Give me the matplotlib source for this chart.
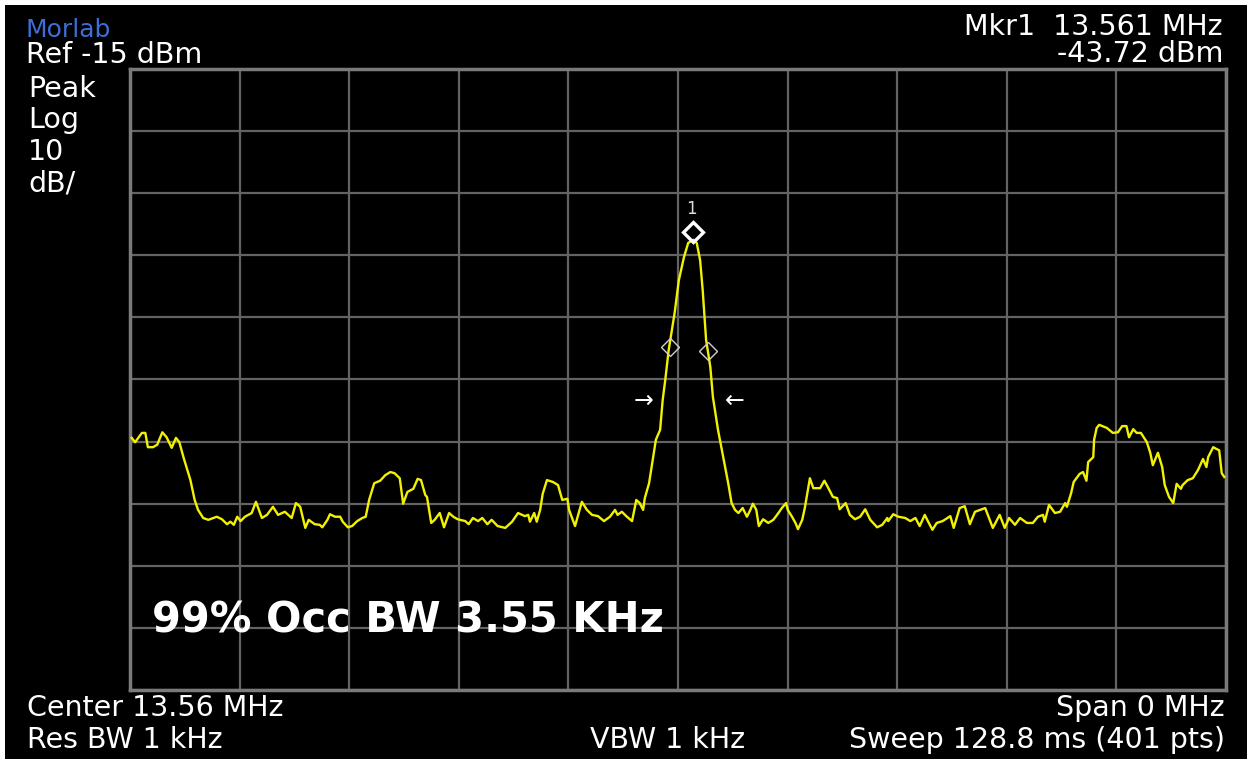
import matplotlib
matplotlib.use("Agg")
import matplotlib.pyplot as plt
from matplotlib.patches import Rectangle
from matplotlib.transforms import offset_copy
import numpy as np

plt.rcParams['font.family'] = ['DejaVu Sans']

# sweep settings (zero span, time axis)
ref_level = -15        # dBm, top of graticule
db_per_div = 10
sweep_ms = 128.8

# trace: time (ms) and level (dBm)
t_ms = [0.2, 0.6, 1.4, 1.8, 2.1, 2.7, 3.2, 3.8, 4.3, 4.9, 5.4, 5.8, 6.3, 7.1, 7.6, 8.0,
        8.6, 9.2, 10.2, 10.8, 11.4, 11.8, 12.2, 12.6, 13.0, 13.5, 13.9, 14.3, 14.8, 15.5,
        16.1, 16.8, 17.4, 18.2, 19.0, 19.5, 20.0, 20.6, 21.0, 21.7, 22.3, 22.6, 23.2, 23.5,
        24.1, 24.7, 25.0, 25.6, 26.1, 26.7, 27.3, 27.7, 28.1, 28.7, 29.4, 30.0, 30.6, 31.1,
        31.7, 32.1, 32.6, 33.3, 33.8, 34.2, 34.7, 34.9, 35.4, 35.8, 36.4, 36.9, 37.5, 38.0,
        38.5, 39.4, 39.8, 40.3, 40.9, 41.4, 42.0, 42.5, 43.2, 44.1, 44.9, 45.6, 46.4, 46.8,
        47.0, 47.5, 47.8, 48.2, 48.5, 49.0, 49.7, 50.3, 50.8, 51.4, 51.6, 52.3, 53.1, 53.7,
        54.3, 55.0, 55.7, 56.4, 57.0, 57.3, 57.8, 58.4, 59.0, 59.5, 59.9, 60.3, 60.5, 61.0,
        61.8, 62.3, 62.6, 62.9, 63.3, 64.0, 64.5, 65.1, 65.6, 66.2, 66.6, 67.0, 67.3, 67.7,
        68.2, 68.5, 69.1, 70.3, 70.7, 71.1, 71.5, 72.0, 72.5, 72.9, 73.2, 73.6, 73.9, 74.4,
        75.0, 75.6, 76.2, 76.6, 77.1, 77.3, 77.8, 78.2, 78.5, 79.0, 79.3, 79.9, 80.3, 81.1,
        81.6, 82.0, 82.6, 83.1, 83.4, 84.1, 84.6, 85.2, 85.8, 86.4, 87.0, 87.8, 88.4, 89.0,
        89.1, 89.7, 90.3, 91.1, 91.7, 92.3, 92.8, 93.4, 93.8, 94.3, 94.8, 95.5, 96.4, 96.8,
        97.5, 98.1, 98.7, 99.3, 100.5, 101.4, 102.2, 102.8, 103.3, 104.0, 104.6, 105.4,
        106.1, 106.7, 107.3, 107.5, 108.0, 108.7, 109.3, 109.9, 110.1, 110.6, 110.9, 111.6,
        112.0, 112.4, 112.6, 113.2, 113.3, 113.6, 113.9, 114.8, 115.5, 116.1, 116.6, 117.1,
        117.4, 117.9, 118.3, 118.8, 119.5, 119.9, 120.2, 120.8, 121.3, 121.6, 122.1, 122.6,
        123.0, 123.5, 123.7, 124.3, 124.9, 125.5, 126.1, 126.5, 126.7, 127.3, 127.7, 128.0,
        128.3, 128.6]
level_dbm = [-74.4, -75.1, -73.6, -73.6, -75.9, -75.9, -75.5, -73.5, -74.3, -76.0, -74.4, -75.1,
             -77.6, -81.2, -84.4, -86.0, -87.3, -87.6, -87.1, -87.5, -88.3, -87.9, -88.4, -87.1,
             -87.8, -87.1, -86.8, -86.5, -84.7, -87.3, -86.8, -85.5, -86.8, -86.3, -87.3, -84.9,
             -85.5, -88.9, -87.6, -88.3, -88.4, -88.8, -87.6, -86.7, -87.1, -87.1, -87.9, -88.8,
             -88.6, -87.8, -87.3, -87.1, -84.4, -81.7, -81.3, -80.4, -79.9, -80.1, -80.9, -85.0,
             -83.1, -82.6, -81.0, -81.2, -83.6, -83.9, -88.1, -87.6, -86.5, -88.8, -86.5, -87.1,
             -87.5, -87.8, -88.3, -87.3, -87.8, -87.3, -88.3, -87.6, -88.6, -88.9, -87.9, -86.5,
             -87.0, -86.8, -87.9, -86.5, -87.9, -86.0, -83.4, -81.2, -81.5, -82.0, -84.4, -84.2,
             -86.0, -88.6, -84.7, -86.0, -86.8, -87.0, -87.8, -87.1, -86.0, -86.8, -86.3, -87.1,
             -87.8, -84.4, -84.9, -86.0, -84.1, -81.7, -74.7, -73.1, -68.3, -65.1, -60.3, -54.3,
             -49.0, -45.3, -43.0, -42.5, -43.0, -45.8, -50.6, -58.6, -63.0, -67.8, -73.1, -81.7,
             -84.9, -86.0, -86.5, -85.7, -87.1, -86.0, -85.0, -86.0, -88.6, -87.5, -88.1, -87.6,
             -86.5, -85.7, -84.9, -86.0, -87.1, -88.1, -89.1, -87.6, -85.7, -80.9, -82.5, -82.5,
             -81.3, -82.3, -83.9, -84.1, -85.9, -84.9, -86.8, -87.5, -87.1, -85.9, -87.6, -88.8,
             -88.4, -87.3, -87.8, -86.7, -87.1, -87.3, -87.8, -87.3, -88.6, -86.8, -87.9, -89.2,
             -88.1, -87.8, -87.0, -88.9, -85.7, -85.4, -88.3, -86.3, -85.7, -88.9, -86.8, -88.9,
             -87.3, -88.4, -87.3, -88.1, -88.1, -87.1, -86.8, -87.9, -85.2, -86.5, -86.3, -84.9,
             -85.5, -83.3, -81.5, -80.2, -79.9, -81.3, -78.3, -77.5, -74.7, -72.8, -72.3, -72.8,
             -73.6, -73.5, -72.5, -72.5, -74.3, -73.0, -73.6, -73.6, -75.1, -76.8, -78.8, -76.8,
             -79.1, -82.0, -83.9, -84.9, -81.8, -82.6, -82.0, -81.2, -80.9, -79.6, -77.8, -79.1,
             -77.5, -75.9, -76.2, -76.4, -80.1, -80.7]

# occupied bandwidth markers and edge arrows
obw_t = [63.5, 67.9]
obw_level = [-59.8, -60.4]
arrow_t = [60.3, 71.1]
arrow_level = -68.5

grid_col = '#636363'
frame_col = '#7a7a7a'
trace_col = '#f2f200'

fig = plt.figure(figsize=(12.5, 7.65), dpi=100, facecolor='white')
fig.patches.append(Rectangle((5 / 1250, 6 / 765), 1242 / 1250, 754 / 765,
                             transform=fig.transFigure, facecolor='black',
                             edgecolor='none', zorder=-10))

ax = fig.add_axes([130 / 1250, 75 / 765, 1096 / 1250, 621 / 765])
ax.set_facecolor('black')
ax.set_xlim(0, sweep_ms)
ax.set_ylim(ref_level - 10 * db_per_div, ref_level)
ax.set_xticks(np.linspace(0, sweep_ms, 11))
ax.set_yticks(np.arange(ref_level - 10 * db_per_div, ref_level + 1, db_per_div))
ax.grid(True, color=grid_col, lw=1.6)
ax.tick_params(length=0, labelbottom=False, labelleft=False)
for s in ax.spines.values():
    s.set_color(frame_col)
    s.set_linewidth(2.5)

ax.plot(t_ms, level_dbm, color=trace_col, lw=1.7, zorder=3)

# marker 1 on the peak
pk = int(np.argmax(level_dbm))
mk_tr = offset_copy(ax.transData, fig=fig, y=8, units='dots')
ax.plot(t_ms[pk], level_dbm[pk], marker='D', ms=10.5, mfc='none', mec='white',
        mew=2.4, transform=mk_tr, zorder=5)
ax.annotate('1', (t_ms[pk], level_dbm[pk]), xytext=(-2, 31), textcoords='offset pixels',
            color='#dddddd', fontsize=12, ha='center', va='center')

ax.plot(obw_t, obw_level, ls='none', marker='D', ms=9, mfc='none', mec='#cfcfcf',
        mew=1.0, zorder=5)
ax.text(arrow_t[0], arrow_level, '\u2192', color='white', fontsize=17,
        ha='center', va='center')
ax.text(arrow_t[1], arrow_level, '\u2190', color='white', fontsize=17,
        ha='center', va='center')

ax.text(0.02, 0.093, '99% Occ BW 3.55 KHz', transform=ax.transAxes, color='white',
        fontsize=30, fontweight='bold', ha='left', va='baseline')


# annotation texts around the graticule
def ftxt(x, y, s, ha='left', color='white', size=20.5):
    fig.text(x / 1250, 1 - y / 765, s, ha=ha, va='baseline', color=color,
             fontsize=size)


ftxt(26, 37, 'Morlab', color='#3b6fd6', size=18)
ftxt(26, 63, 'Ref -15 dBm')
ftxt(28, 97, 'Peak')
ftxt(28, 128, 'Log')
ftxt(28, 160, '10')
ftxt(28, 192, 'dB/')
ftxt(1223, 35, 'Mkr1  13.561 MHz', ha='right')
ftxt(1223, 62, '-43.72 dBm', ha='right')
ftxt(27, 716, 'Center 13.56 MHz')
ftxt(27, 748, 'Res BW 1 kHz')
ftxt(1225, 716, 'Span 0 MHz', ha='right')
ftxt(590, 748, 'VBW 1 kHz')
ftxt(1225, 748, 'Sweep 128.8 ms (401 pts)', ha='right')

fig.savefig('out.png', dpi=100, facecolor='white')
